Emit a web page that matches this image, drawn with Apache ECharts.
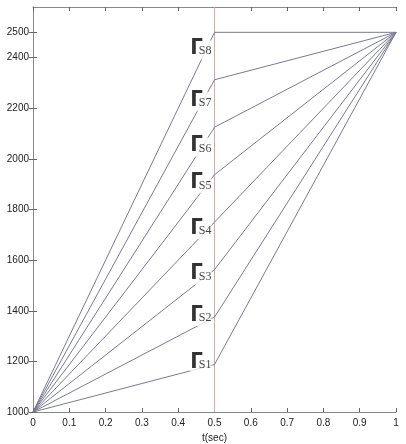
<!DOCTYPE html>
<html>
<head>
<meta charset="UTF-8">
<title>f(Hz) vs t(sec)</title>
<script src="https://cdn.jsdelivr.net/npm/echarts@6/dist/echarts.min.js"></script>
<style>
html,body{margin:0;padding:0;background:#fff;}
#chart{width:406px;height:444px;}
</style>
</head>
<body>
<div id="chart"></div>
<script>
// knot times (sec) and frequencies (Hz)
var tKnots = [0, 0.5, 1];
var fStart = 1000;
var fEnd = 2500;
var midFreqs = [1187.5, 1375, 1562.5, 1750, 1937.5, 2125, 2312.5, 2500];
// where the S-labels sit
var names = ['S1', 'S2', 'S3', 'S4', 'S5', 'S6', 'S7', 'S8'];
var labelFreqs = [1195, 1380, 1545, 1725, 1905, 2050, 2230, 2435];
var yTicks = [1000, 1200, 1400, 1600, 1800, 2000, 2200, 2400, 2500];
var yMin = 1000, yMax = 2600;

var font = '"Liberation Sans Narrow", "Liberation Sans", Arial, sans-serif';
var lineColor = '#7a7a92';

var series = [];
// vertical red marker at t = 0.5
series.push({
  type: 'line',
  symbol: 'none',
  z: 1,
  lineStyle: { color: '#dba8a8', width: 1 },
  data: [[tKnots[1], yMin], [tKnots[1], yMax]]
});
for (var i = 0; i < midFreqs.length; i++) {
  series.push({
    type: 'line',
    symbol: 'none',
    lineStyle: { color: lineColor, width: 1 },
    z: 2,
    data: [[tKnots[0], fStart], [tKnots[1], midFreqs[i]], [tKnots[2], fEnd]]
  });
}
// S1..S8 text marks just left of t = 0.5
var labelData = [];
for (var j = 0; j < names.length; j++) {
  labelData.push([tKnots[1], labelFreqs[j], names[j]]);
}
series.push({
  type: 'scatter',
  symbolSize: 0,
  z: 5,
  data: labelData,
  label: {
    show: true,
    position: 'left',
    distance: 3,
    offset: [0, 1],
    backgroundColor: '#fff',
    formatter: function (p) { return '{b|\u0393}{t|' + p.value[2] + '}'; },
    rich: {
      b: { fontFamily: '"DejaVu Sans Condensed", "DejaVu Sans"', fontWeight: 'bold', fontSize: 22, color: '#000', verticalAlign: 'bottom', lineHeight: 19 },
      t: { fontFamily: '"Liberation Serif", serif', fontSize: 12, color: '#111', verticalAlign: 'bottom', padding: [0, 0, 2, -4] }
    }
  }
});

var chart = echarts.init(document.getElementById('chart'));
chart.setOption({
  animation: false,
  backgroundColor: '#fff',
  grid: { left: 33, right: 10, top: 7, bottom: 32, outerBoundsMode: 'none', containLabel: false },
  xAxis: [{
    type: 'value',
    min: 0, max: 1, interval: 0.1,
    name: 't(sec)', nameLocation: 'middle', nameGap: 19,
    nameTextStyle: { fontFamily: font, fontSize: 10, color: '#222' },
    axisLine: { lineStyle: { color: '#888', width: 1 } },
    axisTick: { inside: true, length: 4, lineStyle: { color: '#666' } },
    axisLabel: { fontFamily: font, fontSize: 10, color: '#222', margin: 6,
      formatter: function (v) { return String(+v.toFixed(1)); } },
    splitLine: { show: false }
  }, {
    type: 'value', position: 'top',
    min: 0, max: 1, interval: 0.1,
    axisLine: { lineStyle: { color: '#888', width: 1 } },
    axisTick: { inside: true, length: 4, lineStyle: { color: '#666' } },
    axisLabel: { show: false },
    splitLine: { show: false }
  }],
  yAxis: [{
    type: 'value',
    min: yMin, max: yMax,
    name: 'f(Hz)', nameLocation: 'middle', nameGap: 23, nameRotate: 90,
    nameTextStyle: { fontFamily: font, fontSize: 10, color: '#222' },
    axisLine: { show: true, lineStyle: { color: '#888', width: 1 } },
    axisTick: { show: true, inside: true, length: 4, customValues: yTicks, lineStyle: { color: '#666' } },
    axisLabel: { fontFamily: font, fontSize: 10, color: '#222', margin: 4, customValues: yTicks,
      formatter: function (v) { return String(v); } },
    splitLine: { show: false }
  }, {
    type: 'value', position: 'right',
    min: yMin, max: yMax,
    axisLine: { show: true, lineStyle: { color: '#888', width: 1 } },
    axisTick: { show: true, inside: true, length: 4, customValues: yTicks, lineStyle: { color: '#666' } },
    axisLabel: { show: false },
    splitLine: { show: false }
  }],
  series: series
});
</script>
</body>
</html>
